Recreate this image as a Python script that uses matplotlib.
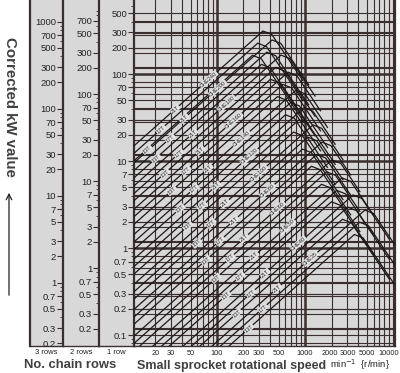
import numpy as np
import matplotlib.pyplot as plt
from matplotlib.patches import Rectangle
from matplotlib.ticker import FixedLocator, FixedFormatter, NullLocator

# Chain selection chart: corrected kW vs small sprocket speed

W, H = 400, 373
line_color = '#3a2e2e'
bg_color = '#d8d8d8'
narrow = ['Liberation Sans Narrow', 'Liberation Sans', 'DejaVu Sans']
sans = ['Liberation Sans', 'DejaVu Sans']

# one chevron family per chain size, top (largest sprocket) line first
chain_names = ['CHE240', 'CHE200', 'CHE180', 'CHE160', 'CHE140', 'CHE120',
               'CHE100', 'CHE80', 'CHE60', 'CHE50', 'CHE40', 'CHE35']
tooth_labels = ['21T', '17T', '13T']
apex_rpm = [[333, 290, 253], [422, 368, 320], [533, 464, 405], [641, 558, 487],
            [790, 688, 600], [975, 849, 740], [1233, 1074, 936], [1560, 1359, 1184],
            [2027, 1766, 1539], [2630, 2291, 1996], [3510, 3057, 2664], [4790, 4172, 3636]]
apex_kw = [[312, 226, 164], [246, 178, 129], [165, 119, 87], [105, 76, 55],
           [65, 47, 34], [41, 29.7, 21.5], [26, 18.8, 13.7], [16.5, 11.9, 8.7],
           [10.3, 7.5, 5.4], [6.4, 4.6, 3.4], [4.07, 2.95, 2.14], [2.73, 1.98, 1.43]]
end_rpm = [950, 1100, 1300, 1500, 1800, 2200, 2700, 3300, 4200, 6000, 9000, 10530]

rise_slope = 0.9
fall_slope = -1.5
shoulder_len = 0.1
shoulder_slope = -0.4

x_ticks = [20, 30, 50, 100, 200, 300, 500, 1000, 2000, 3000, 5000, 10000]
x_nudge = [0, 0, 0, 0, 0, 0, 0, 0, -1.0, 0.8, 0, -3.2]
kw_ticks_1 = [0.1, 0.2, 0.3, 0.5, 0.7, 1, 2, 3, 5, 7, 10, 20, 30, 50, 70, 100, 200, 300, 500]
kw_ticks_2 = [0.2, 0.3, 0.5, 0.7, 1, 2, 3, 5, 7, 10, 20, 30, 50, 70, 100, 200, 300, 500, 700]
kw_ticks_3 = [0.2, 0.3, 0.5, 0.7, 1, 2, 3, 5, 7, 10, 20, 30, 50, 70, 100, 200, 300, 500, 700, 1000]
row_factor = [1.0, 1.7, 2.5]

x_lim = (11.4, 10530)
y_lim = (0.0748, 709)


def px_rect(x0, x1, y0, y1):
    # pixel box (top-left origin) -> figure fraction rect
    return [x0 / W, 1 - y1 / H, (x1 - x0) / W, (y1 - y0) / H]


def style_scale(a, ticks, minor):
    a.yaxis.set_major_locator(FixedLocator(ticks))
    a.yaxis.set_major_formatter(FixedFormatter(['%g' % t for t in ticks]))
    a.yaxis.set_minor_locator(FixedLocator(minor))
    a.tick_params(axis='y', which='major', length=4, width=0.8, color=line_color, pad=1,
                  labelsize=6.8, labelcolor='#222222')
    a.tick_params(axis='y', which='minor', length=2.2, width=0.6, color=line_color)
    for lab in a.get_yticklabels():
        lab.set_family(narrow)


minor_vals = [m * 10.0 ** e for e in range(-2, 4) for m in (4, 6, 8, 9)]

fig = plt.figure(figsize=(W / 100, H / 100), dpi=100)
fig.add_artist(Rectangle((30 / W, 1 - 346 / H), 365 / W, 346 / H, transform=fig.transFigure,
                         fc=bg_color, ec='none', zorder=0))

# scale columns: each column's left spine carries the scale of the next row count
col_edges = [(30, 63), (63, 99), (99, 134)]
col_ticks = [None, kw_ticks_3, kw_ticks_2]
col_factor = [None, 2.5, 1.7]
for (x0, x1), ticks, fac in zip(col_edges, col_ticks, col_factor):
    cax = fig.add_axes(px_rect(x0, x1, 0, 346))
    cax.set_facecolor('none')
    cax.set_xticks([])
    for s in ['top', 'right']:
        cax.spines[s].set_visible(False)
    cax.spines['left'].set_linewidth(1.6)
    cax.spines['bottom'].set_linewidth(1.0)
    for s in ['left', 'bottom']:
        cax.spines[s].set_color(line_color)
    if ticks is None:
        cax.set_yticks([])
        continue
    cax.set_yscale('log')
    cax.set_ylim(y_lim[0] * fac, y_lim[1] * fac)
    style_scale(cax, ticks, minor_vals)

ax = fig.add_axes(px_rect(134, 395, 0, 346))
ax.set_facecolor('none')
ax.set_xscale('log')
ax.set_yscale('log')
ax.set_xlim(*x_lim)
ax.set_ylim(*y_lim)

# grid lines: kW values of all three scales expressed in 1-row kW
for fac, ticks in zip(row_factor, [kw_ticks_1, kw_ticks_2, kw_ticks_3]):
    for t in ticks:
        v = t / fac
        lw = 1.8 if (fac == 1.0 and t in (1, 10, 100)) else 0.8
        ax.axhline(v, color=line_color, lw=lw, zorder=1)
for e in (1, 2, 3):
    for m in range(1, 10):
        v = m * 10.0 ** e
        if v < x_lim[0]:
            continue
        lw = 1.8 if (m == 1 and e in (2, 3)) else 0.8
        ax.axvline(v, color=line_color, lw=lw, zorder=1)
ax.axvline(10000, color=line_color, lw=0.8, zorder=1)

# chevrons
lx0 = np.log10(x_lim[0])
ang = np.degrees(np.arctan(rise_slope * 87 / 88))
lab_box = dict(boxstyle='square,pad=0.1', fc='#e4e4e4', ec='none')
for c in range(len(chain_names)):
    for k in range(len(apex_rpm[c])):
        la = np.log10(apex_rpm[c][k])
        pa = np.log10(apex_kw[c][k])
        ls = la + shoulder_len
        ps = pa + shoulder_slope * shoulder_len
        le = np.log10(end_rpm[c])
        pe = ps + fall_slope * (le - ls)
        xs = 10 ** np.array([lx0, la, ls, le])
        ys = 10 ** np.array([pa - rise_slope * (la - lx0), pa, ps, pe])
        ax.plot(xs, ys, color='#1e1818', lw=0.9, zorder=3, solid_joinstyle='miter')
        # tooth number label on each line
        lt = la - 1.0 - 0.1 * k
        ax.text(10 ** lt, 10 ** (pa - rise_slope * (la - lt)), tooth_labels[k],
                rotation=ang, ha='center', va='center', fontsize=4.0, family=narrow,
                color='#222222', zorder=4, rotation_mode='anchor', bbox=lab_box)
    # chain size label on top line
    la = np.log10(apex_rpm[c][0])
    pa = np.log10(apex_kw[c][0])
    lt = la - 0.62
    ax.text(10 ** lt, 10 ** (pa - rise_slope * 0.62), chain_names[c],
            rotation=ang, ha='center', va='center', fontsize=4.0, family=narrow,
            color='#222222', zorder=4, rotation_mode='anchor', bbox=lab_box)

# x tick labels, drawn one by one so the crowded right end can be nudged
ax.xaxis.set_major_locator(NullLocator())
ax.xaxis.set_minor_locator(NullLocator())
for t, dx in zip(x_ticks, x_nudge):
    ax.annotate('%d' % t, xy=(t, 0), xycoords=('data', 'axes fraction'),
                xytext=(dx, -5.2), textcoords='offset points', ha='center', va='center',
                fontsize=5.3, family=narrow, color='#222222')
style_scale(ax, kw_ticks_1, [v for v in minor_vals if v < 700])
ax.spines['top'].set_visible(False)
for s in ['left', 'right', 'bottom']:
    ax.spines[s].set_color(line_color)
ax.spines['left'].set_linewidth(1.6)
ax.spines['right'].set_linewidth(1.6)
ax.spines['bottom'].set_linewidth(1.0)

# row labels under the columns
for name, xc in zip(['3 rows', '2 rows', '1 row'], [46, 81, 116]):
    fig.text(xc / W, 1 - 352 / H, name, ha='center', va='center', fontsize=5.5,
             family=narrow, color='#222222')

fig.text(70 / W, 1 - 365.5 / H, 'No. chain rows', ha='center', va='center', fontsize=9.4,
         family=sans, weight='bold', color='#404040')
fig.text(137 / W, 1 - 365.5 / H, 'Small sprocket rotational speed', ha='left', va='center',
         fontsize=9.0, family=sans, weight='bold', color='#404040')
fig.text(330 / W, 1 - 365 / H, 'min$^{-1}$  {r/min}', ha='left', va='center',
         fontsize=6.8, color='#222222', family=narrow)
fig.text(10 / W, 1 - 107 / H, 'Corrected kW value', rotation=-90, ha='center', va='center',
         fontsize=10.8, family=sans, weight='bold', color='#404040')
ax.annotate('', xy=(9 / W, 1 - 190 / H), xytext=(9 / W, 1 - 298 / H),
            xycoords='figure fraction', textcoords='figure fraction',
            arrowprops=dict(arrowstyle='->', color='#222222', lw=0.9))

fig.savefig('out.png', dpi=100)
